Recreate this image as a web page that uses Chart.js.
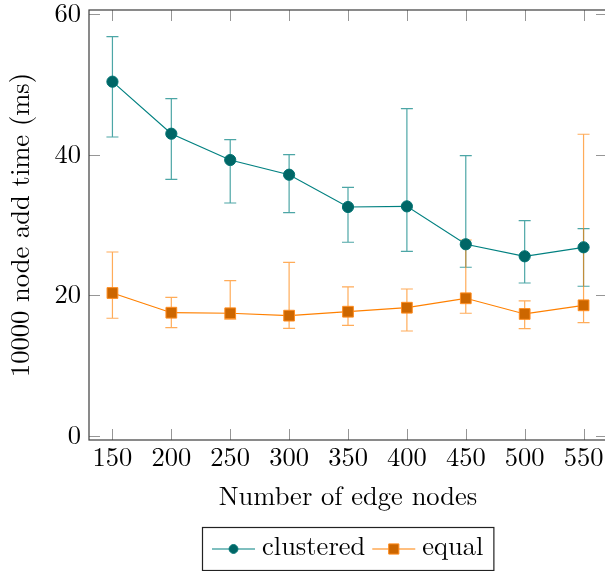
<!DOCTYPE html>
<html>
<head>
<meta charset="utf-8">
<script src="https://cdn.jsdelivr.net/npm/chart.js@4.4.1/dist/chart.umd.min.js"></script>
<style>
  html, body { margin: 0; padding: 0; background: #fff; overflow: hidden; }
  #wrap { width: 608px; height: 571px; }
  .warm { position: absolute; left: -1000px; top: 0; font-family: 'Latin Modern Roman'; font-size: 26px; }
</style>
</head>
<body>
<span class="warm">Number 0123456789 clustered equal</span>
<div id="wrap"><canvas id="c" width="608" height="571"></canvas></div>
<script>
// Number of edge nodes (x values)
const edgeNodes = [150, 200, 250, 300, 350, 400, 450, 500, 550];

// Mean add time for 10000 nodes, with min/max error ranges (ms)
const clusteredMean = [50.38, 42.98, 39.24, 37.15, 32.56, 32.65, 27.26, 25.55, 26.83];
const clusteredLow  = [42.51, 36.50, 33.13, 31.75, 27.55, 26.26, 23.99, 21.75, 21.29];
const clusteredHigh = [56.78, 47.96, 42.13, 40.00, 35.36, 46.54, 39.85, 30.61, 29.48];

const equalMean = [20.33, 17.53, 17.45, 17.11, 17.67, 18.24, 19.58, 17.35, 18.58];
const equalLow  = [16.74, 15.40, 16.60, 15.31, 15.74, 14.93, 17.45, 15.26, 16.11];
const equalHigh = [26.16, 19.72, 22.08, 24.70, 21.19, 20.90, 27.87, 19.20, 42.90];

const xTickValues = [150, 200, 250, 300, 350, 400, 450, 500, 550];
const yTickValues = [0, 20, 40, 60];

const seriesNames = ['clustered', 'equal'];
const xTitle = 'Number of edge nodes';
const yTitle = '10000 node add time (ms)';

const FONT = '"Latin Modern Roman", "Liberation Serif", serif';
const TEXT_SIZE = 26.5;
Chart.defaults.font.family = FONT;
Chart.defaults.color = '#000';

const toPoints = (ys) => edgeNodes.map((x, i) => ({ x: x, y: ys[i] }));

// Vertical error bars with caps, drawn beneath the lines and markers
const errorBars = {
  id: 'errorBars',
  beforeDatasetsDraw(chart) {
    const { ctx, scales: { x, y } } = chart;
    chart.data.datasets.forEach((ds) => {
      ctx.save();
      ctx.strokeStyle = ds.errorColor;
      ctx.lineWidth = 1.2;
      ds.errorLow.forEach((lo, i) => {
        const px = x.getPixelForValue(ds.data[i].x);
        const top = y.getPixelForValue(ds.errorHigh[i]);
        const bot = y.getPixelForValue(lo);
        ctx.beginPath();
        ctx.moveTo(px, top); ctx.lineTo(px, bot);
        ctx.moveTo(px - 6, top); ctx.lineTo(px + 6, top);
        ctx.moveTo(px - 6, bot); ctx.lineTo(px + 6, bot);
        ctx.stroke();
      });
      ctx.restore();
    });
  }
};

// Box frame with inward tick marks on all four sides
const frame = {
  id: 'frame',
  beforeDatasetsDraw(chart) {
    const { ctx, chartArea: a, scales: { x, y } } = chart;
    const L = 11;
    ctx.save();
    ctx.strokeStyle = 'rgb(150,150,150)';
    ctx.lineWidth = 1;
    ctx.beginPath();
    x.ticks.forEach((t) => {
      const p = Math.round(x.getPixelForValue(t.value)) + 0.5;
      ctx.moveTo(p, a.bottom); ctx.lineTo(p, a.bottom - L);
      ctx.moveTo(p, a.top); ctx.lineTo(p, a.top + L);
    });
    y.ticks.forEach((t) => {
      const p = Math.round(y.getPixelForValue(t.value)) + 0.5;
      ctx.moveTo(a.left, p); ctx.lineTo(a.left + L, p);
      ctx.moveTo(a.right, p); ctx.lineTo(a.right - L, p);
    });
    ctx.stroke();
    ctx.strokeStyle = '#3c3c3c';
    ctx.lineWidth = 1.2;
    ctx.strokeRect(a.left, a.top, a.right - a.left, a.bottom - a.top);
    ctx.restore();
  }
};

// Boxed legend below the plot: line sample with marker, then the name
const lineLegend = {
  id: 'lineLegend',
  afterDraw(chart) {
    const { ctx, chartArea: a } = chart;
    const sets = chart.data.datasets;
    const sample = 43, gap = 7, pad = 10, itemGap = 7, boxH = 43;
    ctx.save();
    ctx.font = TEXT_SIZE + 'px ' + FONT;
    const widths = sets.map((d) => ctx.measureText(d.label).width);
    let total = pad * 2 + itemGap * (sets.length - 1);
    widths.forEach((w) => { total += sample + gap + w; });
    const left = Math.round((a.left + a.right) / 2 - total / 2);
    const top = chart.height - boxH - 1;
    ctx.strokeStyle = '#222';
    ctx.lineWidth = 1.2;
    ctx.strokeRect(left + 0.5, top + 0.5, total, boxH);
    const cy = top + 22;
    let cx = left + pad;
    sets.forEach((d, i) => {
      ctx.strokeStyle = d.borderColor;
      ctx.lineWidth = 1.2;
      ctx.beginPath();
      ctx.moveTo(cx, cy); ctx.lineTo(cx + sample, cy);
      ctx.stroke();
      ctx.fillStyle = d.pointBackgroundColor;
      ctx.strokeStyle = d.pointBorderColor;
      ctx.lineWidth = 1;
      Chart.helpers.drawPoint(ctx, {
        pointStyle: d.pointStyle,
        radius: d.legendRadius,
        borderWidth: 1,
        rotation: 0
      }, cx + sample / 2, cy);
      ctx.fillStyle = '#000';
      ctx.textBaseline = 'alphabetic';
      ctx.textAlign = 'left';
      ctx.fillText(d.label, cx + sample + gap, top + 28);
      cx += sample + gap + widths[i] + itemGap;
    });
    ctx.restore();
  }
};

function build() {
  const chart = new Chart(document.getElementById('c'), {
    type: 'line',
    data: {
      datasets: [
        {
          label: seriesNames[0],
          data: toPoints(clusteredMean),
          errorLow: clusteredLow,
          errorHigh: clusteredHigh,
          errorColor: 'rgba(0,128,128,0.7)',
          borderColor: 'rgb(0,128,128)',
          borderWidth: 1.2,
          pointStyle: 'circle',
          pointRadius: 5.6,
          legendRadius: 4.4,
          pointBorderWidth: 1,
          pointBackgroundColor: 'rgb(0,102,102)',
          pointBorderColor: 'rgb(0,115,115)',
          tension: 0,
          fill: false
        },
        {
          label: seriesNames[1],
          data: toPoints(equalMean),
          errorLow: equalLow,
          errorHigh: equalHigh,
          errorColor: 'rgba(255,128,0,0.65)',
          borderColor: 'rgb(255,128,0)',
          borderWidth: 1.2,
          pointStyle: 'rect',
          pointRadius: 7.6,
          legendRadius: 7.2,
          pointBorderWidth: 1,
          pointBackgroundColor: 'rgb(204,102,0)',
          pointBorderColor: 'rgb(255,140,30)',
          tension: 0,
          fill: false
        }
      ]
    },
    options: {
      responsive: false,
      animation: false,
      devicePixelRatio: 1,
      layout: { autoPadding: false, padding: { top: 10, right: 1, left: 0, bottom: 0 } },
      plugins: { legend: { display: false }, tooltip: { enabled: false } },
      scales: {
        x: {
          type: 'linear',
          min: 130.1,
          max: 569.9,
          afterBuildTicks: (s) => { s.ticks = xTickValues.map((v) => ({ value: v })); },
          afterFit: (s) => { s.height = 131; s.paddingLeft = 0; s.paddingRight = 0; },
          grid: { display: false, drawTicks: false },
          border: { display: false },
          ticks: {
            autoSkip: false, maxRotation: 0, padding: 5, color: '#000',
            font: { size: TEXT_SIZE, lineHeight: 1 }
          },
          title: {
            display: true, text: xTitle, color: '#000',
            font: { size: TEXT_SIZE, lineHeight: 1 },
            padding: { top: 0, bottom: 61 }
          }
        },
        y: {
          type: 'linear',
          min: -0.57,
          max: 60.57,
          afterBuildTicks: (s) => { s.ticks = yTickValues.map((v) => ({ value: v })); },
          afterFit: (s) => { s.width = 89; s.paddingTop = 0; s.paddingBottom = 0; },
          grid: { display: false, drawTicks: false },
          border: { display: false },
          ticks: {
            padding: 8, color: '#000',
            font: { size: TEXT_SIZE, lineHeight: 1 }
          },
          title: {
            display: true, text: yTitle, color: '#000',
            font: { size: TEXT_SIZE, lineHeight: 1 },
            padding: { top: 8, bottom: 0 }
          }
        }
      }
    },
    plugins: [frame, errorBars, lineLegend]
  });
  // redraw once more so text uses the serif face even if it settled late
  setTimeout(() => chart.draw(), 150);
}

const ready = document.fonts && document.fonts.load
  ? document.fonts.load(TEXT_SIZE + 'px "Latin Modern Roman"').catch(() => null)
  : Promise.resolve();
ready.then(build, build);
</script>
</body>
</html>
